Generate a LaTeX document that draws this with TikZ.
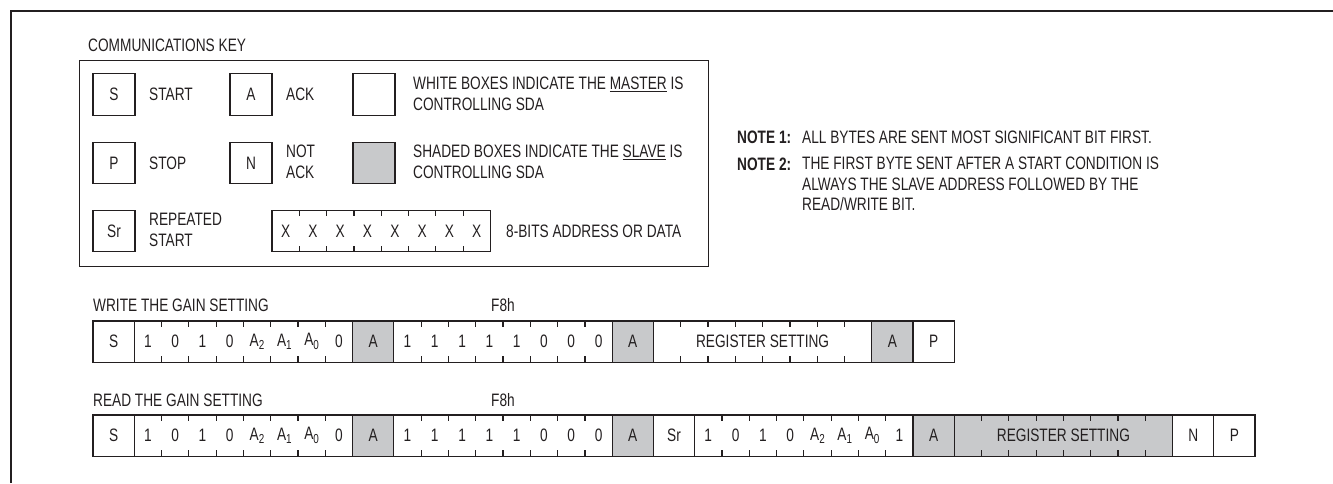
\documentclass[tikz,border=0pt]{standalone}
\usepackage{fontspec}
\setmainfont{Liberation Sans}[FakeStretch=0.76]
\usetikzlibrary{calc}
\definecolor{ink}{RGB}{35,31,32}
\definecolor{shade}{RGB}{200,201,203}
\newcommand{\sbs}[1]{\raisebox{-0.35ex}{\fontsize{13}{13}\selectfont #1}}
\newcommand{\fieldticks}[1]{%
  \foreach \i in {1,...,7}{%
    \draw[tick] ($(#1.north west)+(\i*27.3,0)$) -- ++(0,6);
    \draw[tick] ($(#1.south west)+(\i*27.3,0)$) -- ++(0,-6);
  }}
\newcommand{\fieldbits}[2]{%
  \foreach \bv [count=\i] in {#2}{%
    \node[bittext] (#1-\i) at ($(#1.west)+(\i*27.3-13.65,0)$) {\bv};
  }}
\begin{document}
\begin{tikzpicture}[x=1pt,y=-1pt, font=\fontsize{18}{20.5}\selectfont, text=ink,
  cellbox/.style={draw=ink, line width=1.2pt, minimum height=41.2pt, minimum width=41.2pt, inner sep=0pt, outer sep=0pt},
  bytebox/.style={cellbox, minimum width=218.4pt},
  keybox/.style={cellbox, minimum width=42pt, minimum height=41.5pt},
  lbl/.style={anchor=west, inner sep=0pt, align=left},
  tick/.style={draw=ink, line width=1.2pt},
  bittext/.style={inner sep=0pt}]
\useasboundingbox (0,0) rectangle (1333,483);
\draw[ink, line width=2pt] (11,483) -- (11,11) -- (1333,11);

% ---------- communications key ----------
\node[lbl] (keytitle) at (88,45) {COMMUNICATIONS KEY};
\node[draw=ink, line width=1.4pt, minimum width=629pt, minimum height=206pt, anchor=north west, inner sep=0pt] (keyframe) at (79,60) {};

\node[keybox] (kS) at (114,94.5) {S};
\node[lbl] (kSt) at (149,94.5) {START};
\node[keybox] (kA) at (251,94.5) {A};
\node[lbl] (kAt) at (286,94.5) {ACK};
\node[keybox] (kW) at (374,94.5) {};
\node[lbl] (kWt) at (413,94) {WHITE BOXES INDICATE THE \underline{MASTER} IS\\CONTROLLING SDA};

\node[keybox] (kP) at (114,163) {P};
\node[lbl] (kPt) at (149,163) {STOP};
\node[keybox] (kN) at (251,163) {N};
\node[lbl] (kNt) at (286,162) {NOT\\ACK};
\node[keybox, fill=shade] (kG) at (374,163) {};
\node[lbl] (kGt) at (413,162) {SHADED BOXES INDICATE THE \underline{SLAVE} IS\\CONTROLLING SDA};

\node[keybox] (kSr) at (114,231) {Sr};
\node[lbl] (kSrt) at (149,230) {REPEATED\\START};
\node[bytebox, anchor=west] (kX) at (272,231) {};
\fieldticks{kX}
\fieldbits{kX}{X,X,X,X,X,X,X,X}
\node[lbl] (kXt) at (506,231) {8-BITS ADDRESS OR DATA};

% ---------- notes ----------
\node[lbl] (n1l) at (737,137) {\textbf{NOTE 1:}};
\node[lbl] (n1t) at (802,137) {ALL BYTES ARE SENT MOST SIGNIFICANT BIT FIRST.};
\node[lbl] (n2l) at (737,164) {\textbf{NOTE 2:}};
\node[lbl] (n2t) at (802,184) {THE FIRST BYTE SENT AFTER A START CONDITION IS\\ALWAYS THE SLAVE ADDRESS FOLLOWED BY THE\\READ/WRITE BIT.};

% ---------- write sequence ----------
\node[lbl] (wl) at (93,305) {WRITE THE GAIN SETTING};
\node[bittext] (wf) at (503,305) {F8h};
\node[cellbox, anchor=west] (w1) at (93,341.5) {S};
\node[bytebox, anchor=west] (w2) at (w1.east) {};
\fieldticks{w2}
\fieldbits{w2}{1,0,1,0,A\sbs{2},A\sbs{1},A\sbs{0},0}
\node[cellbox, fill=shade, anchor=west] (w3) at (w2.east) {A};
\node[bytebox, anchor=west] (w4) at (w3.east) {};
\fieldticks{w4}
\fieldbits{w4}{1,1,1,1,1,0,0,0}
\node[cellbox, fill=shade, anchor=west] (w5) at (w4.east) {A};
\node[bytebox, anchor=west] (w6) at (w5.east) {REGISTER SETTING};
\fieldticks{w6}
\node[cellbox, fill=shade, anchor=west] (w7) at (w6.east) {A};
\node[cellbox, anchor=west] (w8) at (w7.east) {P};

% ---------- read sequence ----------
\node[lbl] (rl) at (93,400) {READ THE GAIN SETTING};
\node[bittext] (rf) at (503,400) {F8h};
\node[cellbox, anchor=west] (r1) at (93,435.5) {S};
\node[bytebox, anchor=west] (r2) at (r1.east) {};
\fieldticks{r2}
\fieldbits{r2}{1,0,1,0,A\sbs{2},A\sbs{1},A\sbs{0},0}
\node[cellbox, fill=shade, anchor=west] (r3) at (r2.east) {A};
\node[bytebox, anchor=west] (r4) at (r3.east) {};
\fieldticks{r4}
\fieldbits{r4}{1,1,1,1,1,0,0,0}
\node[cellbox, fill=shade, anchor=west] (r5) at (r4.east) {A};
\node[cellbox, anchor=west] (r6) at (r5.east) {Sr};
\node[bytebox, anchor=west] (r7) at (r6.east) {};
\fieldticks{r7}
\fieldbits{r7}{1,0,1,0,A\sbs{2},A\sbs{1},A\sbs{0},1}
\node[cellbox, fill=shade, anchor=west] (r8) at (r7.east) {A};
\node[bytebox, fill=shade, anchor=west] (r9) at (r8.east) {REGISTER SETTING};
\fieldticks{r9}
\node[cellbox, anchor=west] (r10) at (r9.east) {N};
\node[cellbox, anchor=west] (r11) at (r10.east) {P};
\end{tikzpicture}
\end{document}
